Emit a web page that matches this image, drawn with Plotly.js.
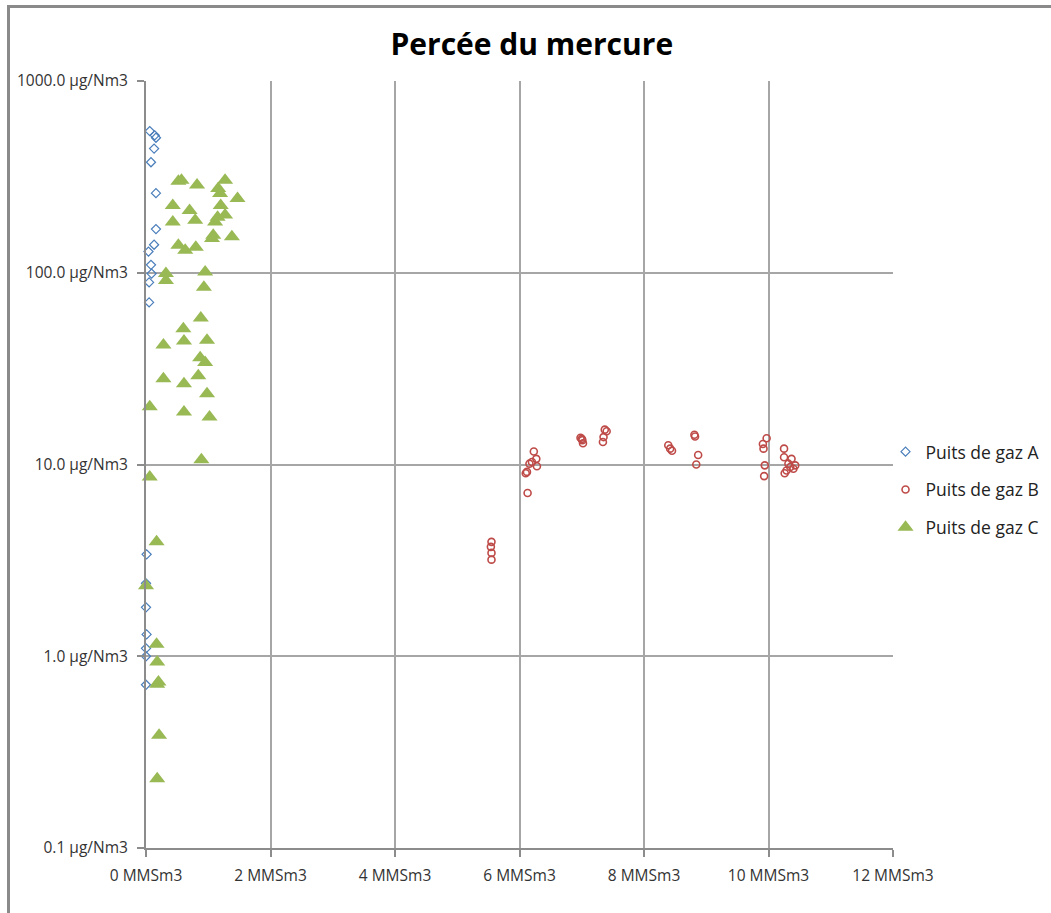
<!DOCTYPE html>
<html>
<head>
<meta charset="utf-8">
<script src="https://cdn.plot.ly/plotly-3.0.1.min.js"></script>
<style>
html,body{margin:0;padding:0;background:#fff;}
#wrap{position:relative;width:1051px;height:913px;overflow:hidden;}
#chart{position:absolute;left:0;top:0;width:1051px;height:913px;}
#frame{position:absolute;left:7px;top:5px;width:1100px;height:1000px;border-left:3px solid #8a8a8a;border-top:3px solid #8a8a8a;pointer-events:none;}
</style>
</head>
<body>
<div id="wrap"><div id="chart"></div><div id="frame"></div></div>
<script>
// Series A – Puits de gaz A
const aX = [0.06,0.14,0.16,0.13,0.08,0.16,0.16,0.13,0.04,0.08,0.09,0.05,0.05,0.01,0.00,0.00,0.01,0.00,0.00,0.00];
const aY = [548,521,506,444,377,260,169,140,129,110,99,89,70,3.4,2.4,1.8,1.3,1.1,1.0,0.71];

// Series B – Puits de gaz B
const bX = [5.55,5.54,5.55,5.55,6.23,6.27,6.16,6.28,6.12,6.10,6.13,6.20,6.98,7.01,7.02,7.00,7.37,7.40,7.35,7.34,8.39,8.42,8.45,8.81,8.82,8.87,8.84,9.92,9.91,9.97,9.94,9.93,10.25,10.25,10.32,10.37,10.40,10.29,10.26,10.35,10.43];
const bY = [3.95,3.72,3.46,3.19,11.7,10.7,10.1,9.8,9.15,9.0,7.1,10.3,13.8,13.4,12.9,13.6,15.2,14.9,13.9,13.1,12.6,12.1,11.8,14.3,14.0,11.2,10.0,12.1,12.8,13.7,9.9,8.7,12.1,10.9,10.1,10.7,9.5,9.3,9.0,9.7,9.9];

// Series C – Puits de gaz C
const cX = [0.52,0.57,0.82,1.27,1.16,1.19,1.47,0.43,0.70,1.20,0.79,0.43,1.15,1.27,1.11,1.08,1.06,1.38,0.52,0.63,0.80,0.32,0.32,0.95,0.93,0.88,0.60,0.28,0.61,0.98,0.87,0.95,0.84,0.28,0.61,0.98,0.06,0.61,1.02,0.89,0.06,0.17,0.00,0.17,0.18,0.20,0.18,0.21,0.18];
const cY = [300,304,287,304,275,259,244,224,211,224,188,184,195,200,184,157,151,154,139,131,136,99,91,101,84,58,51,42,44,44.5,36,34,29,28,26.4,23.4,20,18.8,17.7,10.6,8.6,3.95,2.33,1.155,0.934,0.734,0.715,0.387,0.230];

// Axis tick labels
const yTickVals = [0.1,1,10,100,1000];
const yTickText = ["0.1 µg/Nm3","1.0 µg/Nm3","10.0 µg/Nm3","100.0 µg/Nm3","1000.0 µg/Nm3"];
const xTickVals = [0,2,4,6,8,10,12];
const xTickText = ["0 MMSm3","2 MMSm3","4 MMSm3","6 MMSm3","8 MMSm3","10 MMSm3","12 MMSm3"];

const traces = [
  {x:aX,y:aY,name:"Puits de gaz A",type:"scatter",mode:"markers",legendgroup:"a",cliponaxis:false,
   marker:{symbol:"diamond-open",size:7,color:"#4a7ebb",line:{width:1.2,color:"#4a7ebb"}}},
  {x:bX,y:bY,name:"Puits de gaz B",type:"scatter",mode:"markers",legendgroup:"b",cliponaxis:false,
   marker:{symbol:"circle-open",size:7,color:"#be4b48",line:{width:1.6,color:"#be4b48"}}},
  {x:cX,y:cY,name:"Puits de gaz C",type:"scatter",mode:"markers",legendgroup:"c",cliponaxis:false,
   marker:{symbol:"triangle-up",size:14,color:"#98b954",line:{width:0}}}
];

const layout = {
  width:1051,height:913,
  paper_bgcolor:"#ffffff",plot_bgcolor:"#ffffff",
  margin:{l:146,r:158,t:81,b:65,autoexpand:false},
  font:{family:"Open Sans, sans-serif",color:"#222"},
  title:{text:"<b>Percée du mercure</b>",font:{family:"Open Sans, sans-serif",size:30,color:"#000"},
         x:0.506,xanchor:"center",y:0.951,yanchor:"middle"},
  xaxis:{range:[0,12],tickvals:xTickVals,ticktext:xTickText,showgrid:true,gridcolor:"#a6a6a6",gridwidth:2,
         showline:true,linecolor:"#8c8c8c",linewidth:2,zeroline:false,ticks:"outside",ticklen:7,tickcolor:"#8c8c8c",tickwidth:2,
         ticklabelstandoff:5,tickfont:{size:15.5,color:"#333"},fixedrange:true},
  yaxis:{type:"log",range:[-1,3],tickvals:yTickVals,ticktext:yTickText,showgrid:true,gridcolor:"#a6a6a6",gridwidth:2,
         showline:true,linecolor:"#8c8c8c",linewidth:2,zeroline:false,ticks:"outside",ticklen:7,tickcolor:"#8c8c8c",tickwidth:2,
         ticklabelstandoff:6,tickfont:{size:15.5,color:"#333"},fixedrange:true},
  legend:{x:0.99,xanchor:"left",y:0.54,yanchor:"top",traceorder:"grouped",tracegroupgap:12,
          font:{size:17.5,color:"#222"},bgcolor:"rgba(0,0,0,0)"},
  showlegend:true
};

Plotly.newPlot("chart",traces,layout,{displayModeBar:false,staticPlot:true});
</script>
</body>
</html>
